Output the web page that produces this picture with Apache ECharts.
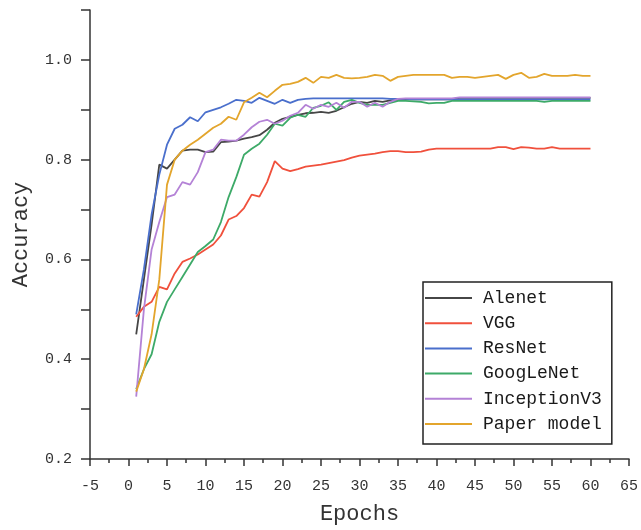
<!DOCTYPE html>
<html>
<head>
<meta charset="utf-8">
<script src="https://cdn.jsdelivr.net/npm/echarts@6/dist/echarts.min.js"></script>
<style>
  html, body { margin: 0; padding: 0; background: #fff; }
  #chart { width: 641px; height: 530px; }
</style>
</head>
<body>
<div id="chart"></div>
<script>
// Training accuracy per epoch for each network (epochs 1..60)
const epochs = Array.from({ length: 60 }, (_, i) => i + 1);

const alenet = [
  0.45, 0.56, 0.67, 0.79, 0.782, 0.80, 0.818, 0.82, 0.82, 0.815,
  0.816, 0.835, 0.836, 0.838, 0.842, 0.845, 0.849, 0.86, 0.874, 0.882,
  0.886, 0.89, 0.893, 0.894, 0.896, 0.894, 0.898, 0.905, 0.912, 0.916,
  0.914, 0.918, 0.916, 0.919, 0.92, 0.921, 0.921, 0.921, 0.921, 0.921,
  0.921, 0.921, 0.924, 0.924, 0.924, 0.924, 0.924, 0.924, 0.924, 0.924,
  0.924, 0.924, 0.924, 0.924, 0.924, 0.924, 0.924, 0.924, 0.924, 0.924
];

const vgg = [
  0.485, 0.505, 0.515, 0.545, 0.54, 0.572, 0.595, 0.602, 0.61, 0.62,
  0.63, 0.648, 0.68, 0.687, 0.703, 0.73, 0.726, 0.755, 0.797, 0.782,
  0.777, 0.781, 0.786, 0.788, 0.79, 0.793, 0.796, 0.799, 0.804, 0.808,
  0.81, 0.812, 0.815, 0.817, 0.817, 0.815, 0.815, 0.816, 0.82, 0.822,
  0.822, 0.822, 0.822, 0.822, 0.822, 0.822, 0.822, 0.825, 0.825, 0.821,
  0.825, 0.824, 0.822, 0.822, 0.825, 0.822, 0.822, 0.822, 0.822, 0.822
];

const resnet = [
  0.49, 0.58, 0.69, 0.77, 0.83, 0.862, 0.87, 0.885, 0.877, 0.895,
  0.9, 0.905, 0.912, 0.92, 0.918, 0.914, 0.924, 0.918, 0.912, 0.92,
  0.914, 0.92, 0.922, 0.923, 0.923, 0.923, 0.923, 0.923, 0.923, 0.923,
  0.923, 0.923, 0.923, 0.922, 0.922, 0.922, 0.921, 0.921, 0.921, 0.921,
  0.921, 0.921, 0.921, 0.921, 0.921, 0.921, 0.921, 0.921, 0.921, 0.921,
  0.921, 0.921, 0.921, 0.921, 0.921, 0.921, 0.921, 0.921, 0.921, 0.921
];

const googlenet = [
  0.34, 0.38, 0.41, 0.475, 0.515, 0.54, 0.565, 0.59, 0.615, 0.627,
  0.64, 0.675, 0.725, 0.765, 0.81, 0.822, 0.832, 0.85, 0.872, 0.868,
  0.884, 0.89, 0.886, 0.904, 0.908, 0.915, 0.9, 0.916, 0.92, 0.914,
  0.91, 0.91, 0.91, 0.914, 0.918, 0.918, 0.917, 0.916, 0.913, 0.914,
  0.914, 0.918, 0.918, 0.918, 0.918, 0.918, 0.918, 0.918, 0.918, 0.918,
  0.918, 0.918, 0.918, 0.916, 0.918, 0.918, 0.918, 0.918, 0.918, 0.918
];

const inceptionV3 = [
  0.325, 0.5, 0.62, 0.675, 0.725, 0.73, 0.755, 0.75, 0.775, 0.815,
  0.82, 0.84, 0.838, 0.838, 0.85, 0.865, 0.876, 0.88, 0.872, 0.878,
  0.888, 0.894, 0.91, 0.902, 0.91, 0.906, 0.914, 0.904, 0.916, 0.916,
  0.906, 0.914, 0.906, 0.916, 0.922, 0.923, 0.923, 0.923, 0.923, 0.923,
  0.923, 0.923, 0.925, 0.925, 0.925, 0.925, 0.925, 0.925, 0.925, 0.925,
  0.925, 0.925, 0.925, 0.925, 0.925, 0.925, 0.925, 0.925, 0.925, 0.925
];

const paperModel = [
  0.335, 0.38, 0.45, 0.56, 0.75, 0.8, 0.818, 0.83, 0.84, 0.852,
  0.864, 0.872, 0.886, 0.88, 0.915, 0.924, 0.934, 0.925, 0.938, 0.95,
  0.952, 0.956, 0.964, 0.954, 0.966, 0.964, 0.97, 0.964, 0.963, 0.964,
  0.966, 0.97, 0.968, 0.958, 0.966, 0.968, 0.97, 0.97, 0.97, 0.97,
  0.97, 0.964, 0.966, 0.966, 0.964, 0.966, 0.968, 0.97, 0.962, 0.97,
  0.974, 0.964, 0.966, 0.972, 0.968, 0.968, 0.968, 0.97, 0.968, 0.968
];

const seriesNames = ['Alenet', 'VGG', 'ResNet', 'GoogLeNet', 'InceptionV3', 'Paper model'];
const seriesValues = [alenet, vgg, resnet, googlenet, inceptionV3, paperModel];
const seriesColors = ['#464646', '#f0503c', '#4a6fcc', '#3daa68', '#b482d6', '#e3a52c'];

const monoFont = '"Liberation Mono", "DejaVu Sans Mono", monospace';

const chart = echarts.init(document.getElementById('chart'), null, { renderer: 'canvas' });

chart.setOption({
  animation: false,
  backgroundColor: '#ffffff',
  grid: { left: 90, right: 11, top: 10, bottom: 68 },
  legend: {
    orient: 'vertical',
    left: 423,
    top: 282,
    padding: [7, 10, 11, 2],
    itemGap: 7.2,
    itemWidth: 47,
    itemHeight: 18,
    borderColor: '#222',
    borderWidth: 1.5,
    backgroundColor: '#fff',
    icon: 'path://M0,8 L47,8 L47,10 L0,10 Z',
    textStyle: { fontFamily: monoFont, fontSize: 18, color: '#1a1a1a', padding: [0, 0, 0, 6] },
    data: seriesNames
  },
  xAxis: {
    type: 'value',
    min: -5,
    max: 65,
    interval: 5,
    name: 'Epochs',
    nameLocation: 'middle',
    nameGap: 44,
    nameTextStyle: { fontFamily: monoFont, fontSize: 22, color: '#333' },
    axisLine: { onZero: false, lineStyle: { color: '#333', width: 1.5 } },
    axisTick: { length: 7, lineStyle: { color: '#333', width: 1.5 } },
    minorTick: { show: true, splitNumber: 2, length: 4, lineStyle: { color: '#333', width: 1.5 } },
    axisLabel: { fontFamily: monoFont, fontSize: 15, color: '#333', margin: 20 },
    splitLine: { show: false }
  },
  yAxis: {
    type: 'value',
    min: 0.2,
    max: 1.1,
    interval: 0.1,
    name: 'Accuracy',
    nameLocation: 'middle',
    nameGap: 58,
    nameTextStyle: { fontFamily: monoFont, fontSize: 22, color: '#333' },
    axisLine: { show: true, onZero: false, lineStyle: { color: '#333', width: 1.5 } },
    axisTick: { show: true, length: 9, lineStyle: { color: '#333', width: 1.5 } },
    axisLabel: {
      fontFamily: monoFont,
      fontSize: 15,
      color: '#333',
      margin: 18,
      formatter: v => (Math.round(v * 10) % 2 === 0 ? v.toFixed(1) : '')
    },
    splitLine: { show: false }
  },
  series: seriesNames.map((name, k) => ({
    name,
    type: 'line',
    symbol: 'none',
    color: seriesColors[k],
    lineStyle: { width: 1.8, color: seriesColors[k] },
    data: epochs.map((e, i) => [e, seriesValues[k][i]])
  }))
});
</script>
</body>
</html>
